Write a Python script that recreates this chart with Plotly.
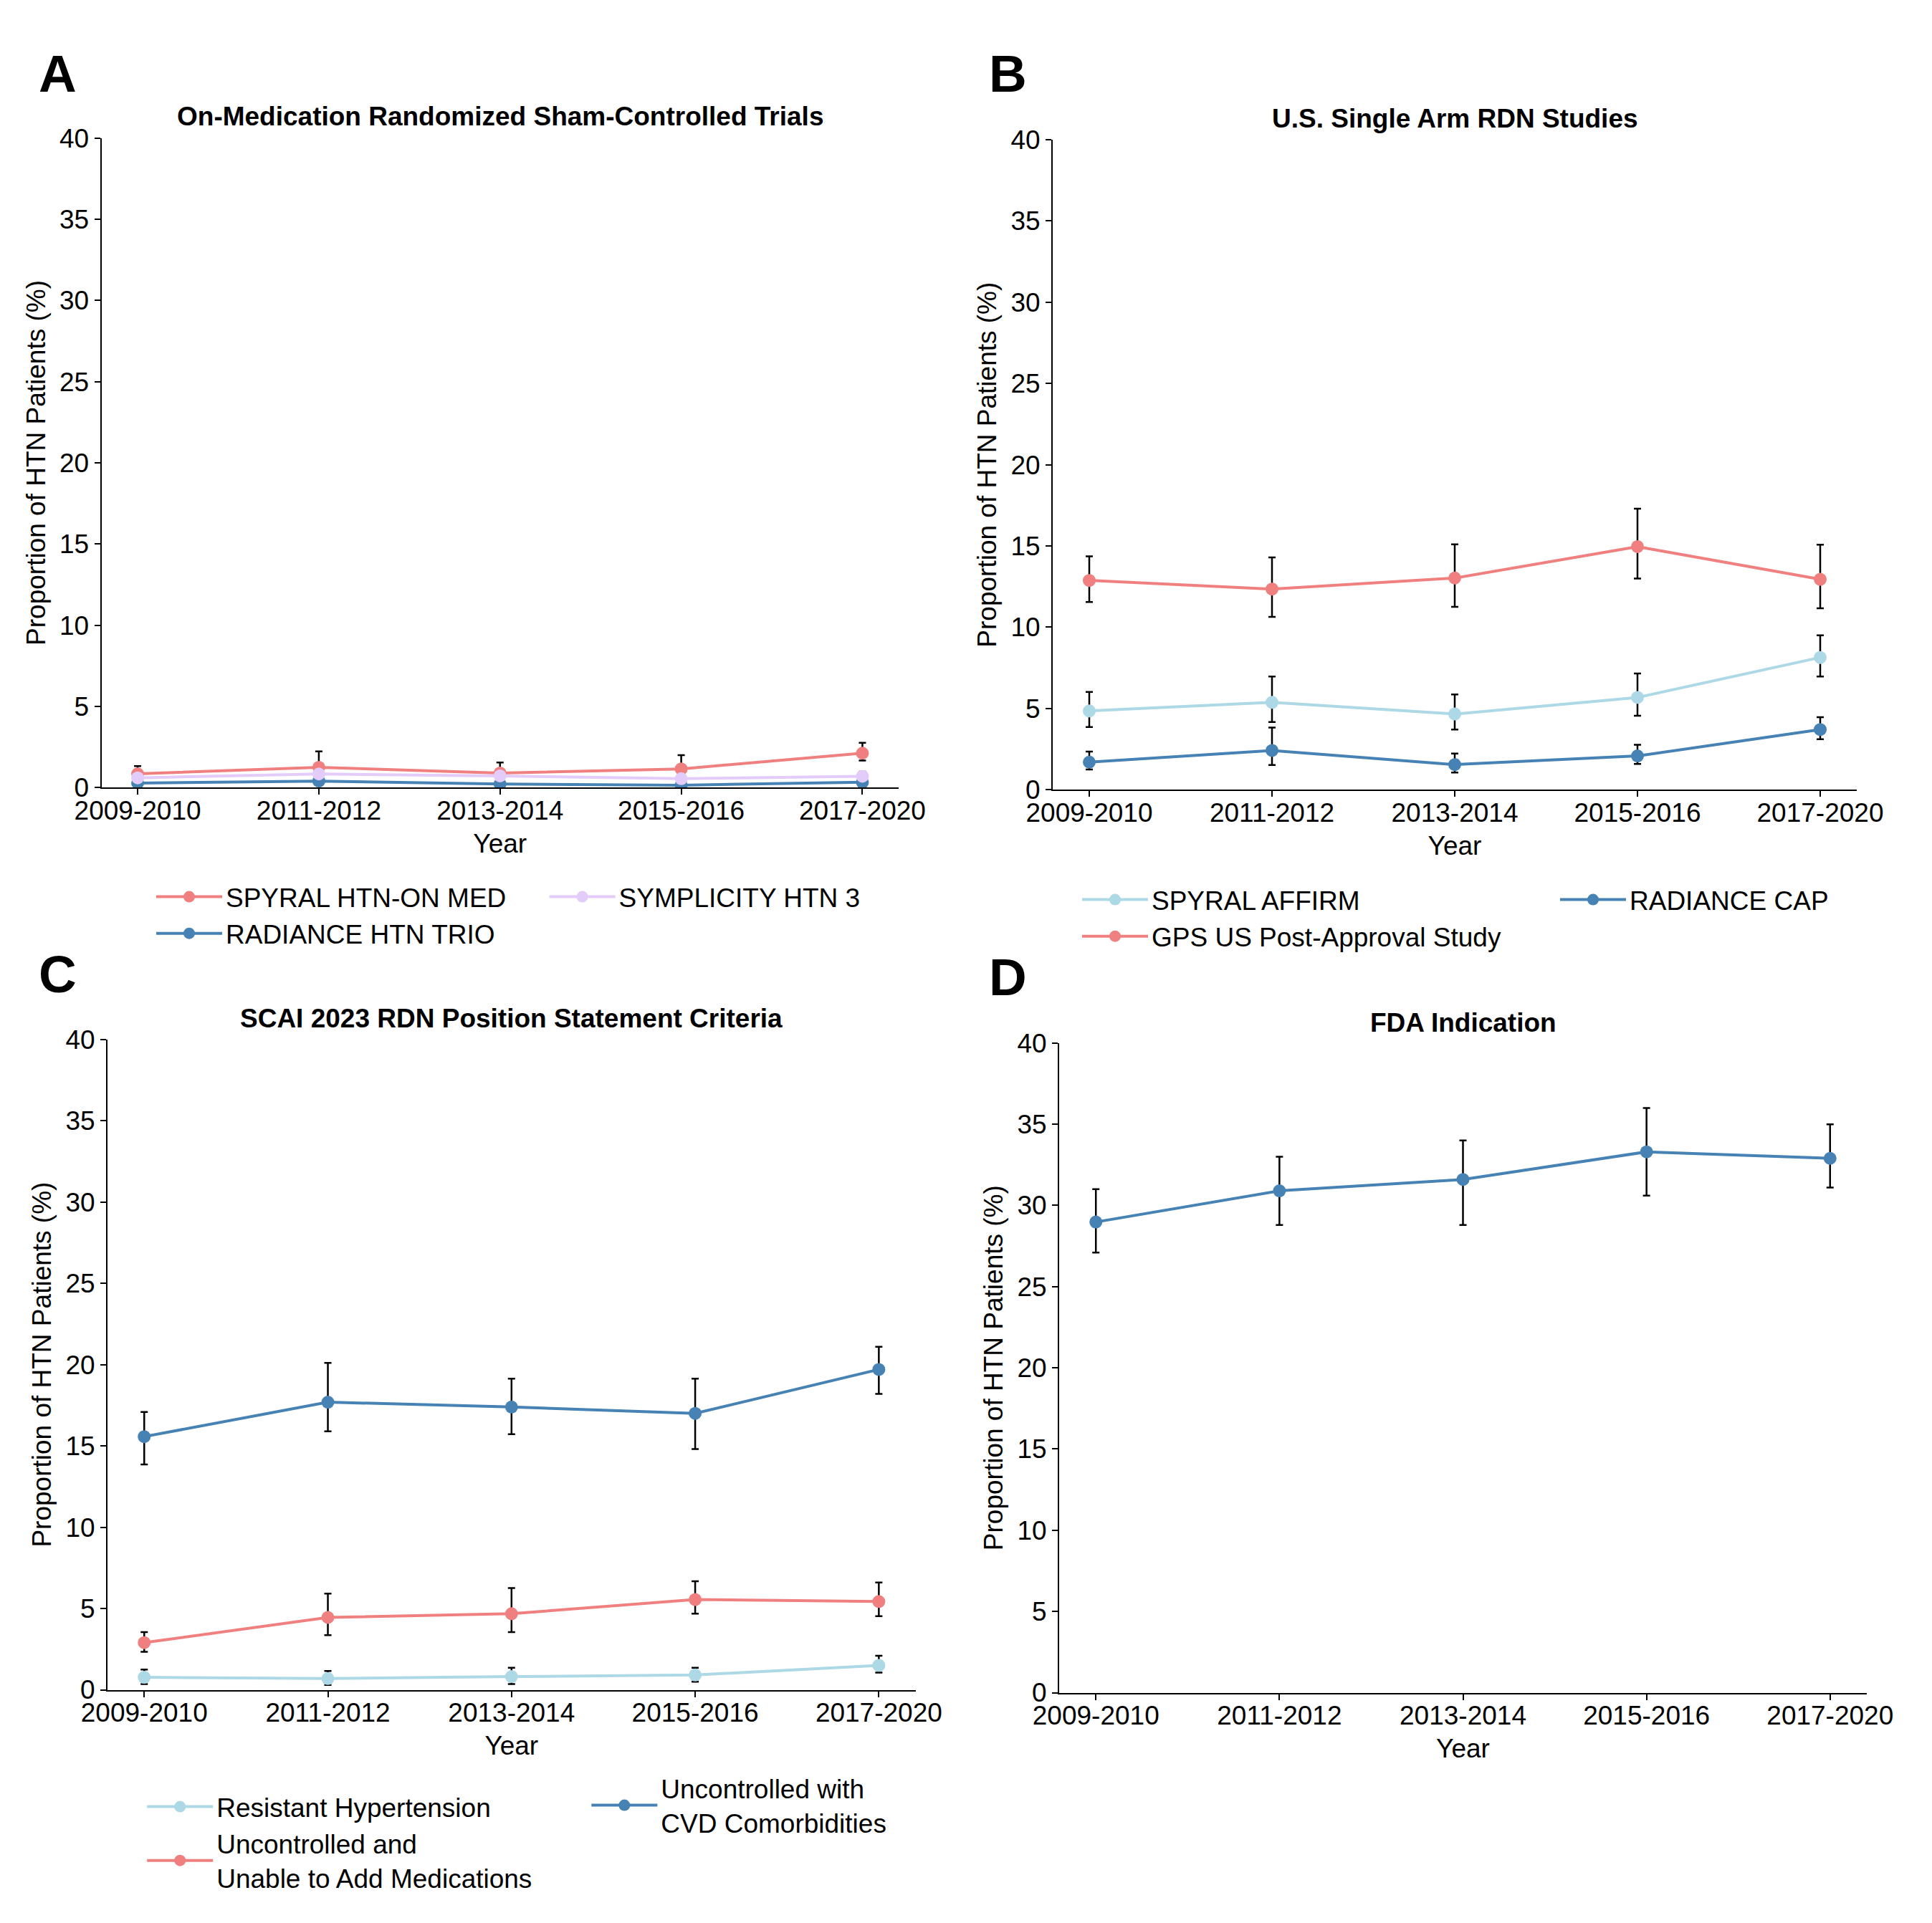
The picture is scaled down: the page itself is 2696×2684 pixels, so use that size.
import plotly.graph_objects as go

# ---------------- data ----------------
years = ["2009-2010", "2011-2012", "2013-2014", "2015-2016", "2017-2020"]
y_ticks = [0, 5, 10, 15, 20, 25, 30, 35, 40]

# Panel A
a_spyral_on = [0.85, 1.25, 0.9, 1.15, 2.12]
a_spyral_on_hi = [1.33, 2.23, 1.55, 2.0, 2.76]
a_spyral_on_lo = [0.45, 0.4, 0.4, 0.45, 1.67]
a_trio = [0.28, 0.4, 0.22, 0.15, 0.33]
a_trio_hi = [0.5, 0.65, 0.42, 0.32, 0.55]
a_trio_lo = [0.1, 0.2, 0.06, 0.03, 0.15]
a_symp = [0.6, 0.84, 0.72, 0.55, 0.7]
a_symp_hi = [0.85, 1.05, 0.95, 0.78, 0.98]
a_symp_lo = [0.4, 0.62, 0.5, 0.35, 0.45]

# Panel B
b_affirm = [4.85, 5.38, 4.66, 5.68, 8.14]
b_affirm_hi = [6.02, 6.97, 5.87, 7.16, 9.5]
b_affirm_lo = [3.86, 4.17, 3.71, 4.55, 6.97]
b_gps = [12.88, 12.35, 13.03, 14.96, 12.95]
b_gps_hi = [14.36, 14.3, 15.1, 17.3, 15.08]
b_gps_lo = [11.55, 10.64, 11.25, 13.0, 11.17]
b_cap = [1.7, 2.42, 1.55, 2.08, 3.71]
b_cap_hi = [2.35, 3.83, 2.23, 2.77, 4.47]
b_cap_lo = [1.25, 1.52, 1.06, 1.59, 3.11]

# Panel C
c_resist = [0.77, 0.69, 0.81, 0.91, 1.5]
c_resist_hi = [1.24, 1.16, 1.35, 1.35, 2.09]
c_resist_lo = [0.35, 0.3, 0.35, 0.5, 1.06]
c_unable = [2.9, 4.45, 4.68, 5.55, 5.43]
c_unable_hi = [3.55, 5.92, 6.26, 6.68, 6.6]
c_unable_lo = [2.34, 3.36, 3.55, 4.68, 4.53]
c_cvd = [15.57, 17.69, 17.39, 17.0, 19.7]
c_cvd_hi = [17.08, 20.1, 19.13, 19.13, 21.1]
c_cvd_lo = [13.86, 15.9, 15.72, 14.8, 18.2]

# Panel D
d_fda = [28.98, 30.9, 31.6, 33.3, 32.9]
d_fda_hi = [31.0, 33.0, 34.0, 36.0, 35.0]
d_fda_lo = [27.1, 28.8, 28.8, 30.6, 31.1]

RED = "#F08080"
LIGHTBLUE = "#ADD8E6"
STEEL = "#4682B4"
LAVENDER = "#E3CCFA"

FONT = "Liberation Sans, Arial, Helvetica, sans-serif"
FS = 37

# page body has an 8px margin; figure is sized/positioned to compensate
OFF = 8
W, H = 2676, 2664


def fx(p):
    return (p - OFF) / W


def fy(p):
    return 1 - (p - OFF) / H


fig = go.Figure()


def add(xa, ya, vals, hi, lo, name, color, legend, show=True):
    fig.add_trace(go.Scatter(
        x=years, y=vals, name=name, mode="lines+markers",
        line=dict(color=color, width=4),
        marker=dict(color=color, size=18),
        error_y=dict(type="data", symmetric=False,
                     array=[h - v for h, v in zip(hi, vals)],
                     arrayminus=[v - l for v, l in zip(vals, lo)],
                     color="black", thickness=2.5, width=5),
        xaxis=xa, yaxis=ya, legend=legend, showlegend=show,
    ))


# Panel A
add("x", "y", a_spyral_on, a_spyral_on_hi, a_spyral_on_lo, "SPYRAL HTN-ON MED", RED, "legend")
add("x", "y", a_trio, a_trio_hi, a_trio_lo, "RADIANCE HTN TRIO", STEEL, "legend")
add("x", "y", a_symp, a_symp_hi, a_symp_lo, "SYMPLICITY HTN 3", LAVENDER, "legend2")
# Panel B
add("x2", "y2", b_affirm, b_affirm_hi, b_affirm_lo, "SPYRAL AFFIRM", LIGHTBLUE, "legend3")
add("x2", "y2", b_gps, b_gps_hi, b_gps_lo, "GPS US Post-Approval Study", RED, "legend3")
add("x2", "y2", b_cap, b_cap_hi, b_cap_lo, "RADIANCE CAP", STEEL, "legend4")
# Panel C
add("x3", "y3", c_resist, c_resist_hi, c_resist_lo, "Resistant Hypertension", LIGHTBLUE, "legend5")
add("x3", "y3", c_unable, c_unable_hi, c_unable_lo, "Uncontrolled and<br>Unable to Add Medications", RED, "legend5")
add("x3", "y3", c_cvd, c_cvd_hi, c_cvd_lo, "Uncontrolled with<br>CVD Comorbidities", STEEL, "legend6")
# Panel D
add("x4", "y4", d_fda, d_fda_hi, d_fda_lo, "FDA Indication", STEEL, "legend", show=False)

# panel boxes in reference pixels: (left, right, top, bottom)
boxes = {
    "": (141.5, 1254.0, 192.6, 1099.3),
    "2": (1469.0, 2591.0, 195.0, 1102.3),
    "3": (150.0, 1277.6, 1450.7, 2358.5),
    "4": (1478.0, 2605.0, 1455.8, 2362.5),
}

axis_common = dict(showline=True, linecolor="black", linewidth=2, ticks="outside",
                   ticklen=8, tickwidth=2, tickcolor="black", showgrid=False,
                   zeroline=False, automargin=False,
                   tickfont=dict(size=FS, color="black", family=FONT))

layout = {}
for k, (l, r, t, b) in boxes.items():
    layout["xaxis" + k] = dict(axis_common, domain=[fx(l), fx(r)], type="category",
                               categoryorder="array", categoryarray=years,
                               range=[-0.2, 4.2], anchor="y" + k, ticklabelstandoff=-10,
                               title=dict(text="Year", standoff=13,
                                          font=dict(size=FS, color="black", family=FONT)))
    layout["yaxis" + k] = dict(axis_common, domain=[fy(b), fy(t)], range=[0, 40],
                               tickvals=y_ticks, anchor="x" + k,
                               title=dict(text="Proportion of HTN Patients (%)", standoff=8,
                                          font=dict(size=FS, color="black", family=FONT)))

ITEMW = 92
leg_common = dict(orientation="v", xanchor="left", yanchor="top", bgcolor="rgba(0,0,0,0)",
                  font=dict(size=FS, color="black", family=FONT),
                  traceorder="normal", itemwidth=ITEMW, tracegroupgap=0)
TXT = ITEMW + 10
# (text start x, legend top y) in reference pixels
leg_pos = {
    "legend": (315.0, 1221.0),
    "legend2": (863.6, 1221.0),
    "legend3": (1607.0, 1225.0),
    "legend4": (2274.0, 1225.0),
    "legend5": (302.2, 2491.0),
    "legend6": (922.3, 2465.0),
}
for name, (tx, ty) in leg_pos.items():
    layout[name] = dict(leg_common, x=fx(tx - TXT), y=fy(ty))

fig.update_layout(**layout)

titles = [
    ("On-Medication Randomized Sham-Controlled Trials", boxes[""], 162.5),
    ("U.S. Single Arm RDN Studies", boxes["2"], 165.1),
    ("SCAI 2023 RDN Position Statement Criteria", boxes["3"], 1421.7),
    ("FDA Indication", boxes["4"], 1427.5),
]
for t, bx, y in titles:
    fig.add_annotation(text="<b>" + t + "</b>", x=fx((bx[0] + bx[1]) / 2), y=fy(y),
                       xref="paper", yref="paper", xanchor="center", yanchor="middle",
                       showarrow=False, font=dict(size=FS, color="black", family=FONT))

letters = [("A", 80.3, 102.7), ("B", 1406.7, 102.7), ("C", 80.0, 1359.7), ("D", 1406.7, 1363.0)]
for t, x, y in letters:
    fig.add_annotation(text="<b>" + t + "</b>", x=fx(x), y=fy(y), xref="paper", yref="paper",
                       xanchor="center", yanchor="middle", showarrow=False,
                       font=dict(size=73, color="black", family=FONT))

fig.update_layout(width=W, height=H, plot_bgcolor="white", paper_bgcolor="white",
                  margin=dict(l=0, r=0, t=0, b=0, autoexpand=False),
                  font=dict(family=FONT, color="black"))

fig.write_html("out.html")
